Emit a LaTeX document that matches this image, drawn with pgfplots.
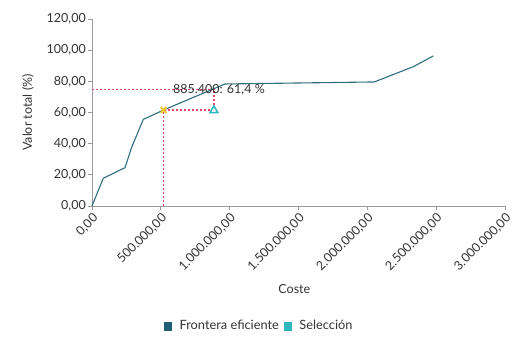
\documentclass[border=0pt]{standalone}
\usepackage{pgfplots}
\pgfplotsset{compat=1.18}
\usepackage{fontspec}
\setmainfont{Lato}
\definecolor{linecol}{HTML}{2F6E7D}
\definecolor{frontera}{HTML}{1F5F75}
\definecolor{selcol}{HTML}{2DB8BE}
\definecolor{xcol}{HTML}{F0C52E}
\definecolor{dotcol}{RGB}{225,70,105}
\definecolor{axcol}{HTML}{9A9A9A}
\definecolor{txtcol}{HTML}{333333}
\begin{document}
\begin{tikzpicture}[x=1bp,y=1bp]
\fontsize{12.5bp}{15bp}\selectfont
\path[use as bounding box] (0,0) rectangle (527,359);
\begin{axis}[
  at={(92bp,153bp)}, anchor=south west,
  scale only axis, width=413bp, height=187bp,
  xmin=0, xmax=3000000, ymin=0, ymax=120,
  xtick={0,500000,1000000,1500000,2000000,2500000,3000000},
  ytick={0,20,40,60,80,100,120},
  scaled x ticks=false, scaled y ticks=false,
  axis lines*=left,
  axis line style={axcol, line width=0.8bp},
  tick style={axcol, line width=0.8bp},
  tick align=outside, major tick length=4bp,
  /pgf/number format/assume math mode=true,
  /pgf/number format/.cd, fixed, fixed zerofill, precision=2, use comma, 1000 sep={.},
  /pgfplots/.cd,
  ticklabel style={font=\fontsize{12.5bp}{15bp}\selectfont, text=txtcol},
  xticklabel style={rotate=45, anchor=north east, inner sep=1.5bp},
  yticklabel style={inner sep=2bp},
  xlabel={Coste}, ylabel={Valor total (\%)},
  label style={font=\fontsize{12.5bp}{15bp}\selectfont, text=txtcol},
  xlabel style={at={(axis description cs:0.49,-0.444)}, anchor=center},
  ylabel style={at={(axis description cs:-0.155,0.5)}, anchor=center},
  legend columns=2,
  legend style={at={(axis description cs:0.405,-0.642)}, anchor=center, draw=none, fill=none,
    font=\fontsize{12.8bp}{15bp}\selectfont, text=txtcol,
    /tikz/every odd column/.append style={column sep=6bp},
    /tikz/every even column/.append style={column sep=3bp}},
  legend cell align=left,
  clip=false,
]
% crosshair / guide lines
\addplot[color=dotcol, solid, dash pattern=on 2bp off 2bp, line width=1.3bp, forget plot] coordinates {(0,74.9) (885400,74.9) (885400,65)};
\addplot[color=dotcol, solid, dash pattern=on 2bp off 2bp, line width=1.3bp, forget plot] coordinates {(520000,0) (520000,61.6) (860000,61.6)};
% efficient frontier
\addplot[linecol, line width=1.1bp, forget plot] coordinates {
(0,0) (82000,17.8) (240000,24.6) (288000,37.7) (373000,55.6) (520000,61.6)
(966000,78.3) (2050000,79.6) (2334000,89.4) (2479000,96.3)};
% selected point
\addplot[only marks, mark=x, mark size=4bp, xcol, line width=2bp, forget plot] coordinates {(520000,61.6)};
\addplot[only marks, mark=triangle, mark size=4.5bp, selcol, line width=1.5bp, forget plot] coordinates {(885400,61.4)};
\node[anchor=west, text=txtcol, inner sep=0pt, font=\fontsize{12.5bp}{15bp}\selectfont] at (axis cs:588000,74.5) {885.400: 61,4 \%};
\addlegendimage{only marks, mark=square*, mark size=3.8bp, frontera}
\addlegendentry{Frontera eficiente}
\addlegendimage{only marks, mark=square*, mark size=3.8bp, selcol}
\addlegendentry{Selección}
\end{axis}
\end{tikzpicture}
\end{document}
